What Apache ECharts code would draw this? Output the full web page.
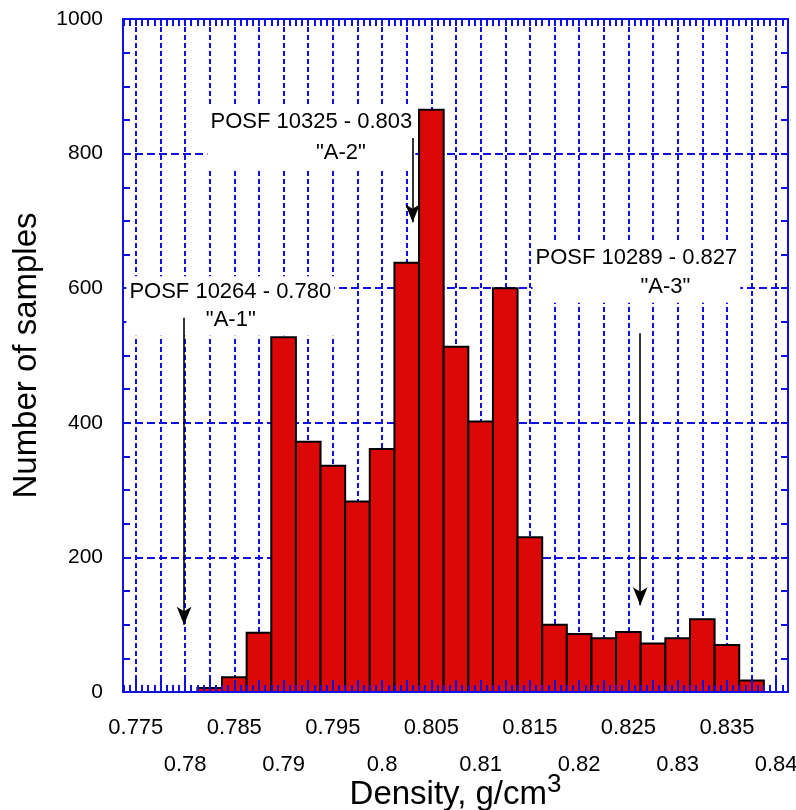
<!DOCTYPE html>
<html><head><meta charset="utf-8">
<script src="https://cdn.jsdelivr.net/npm/echarts@6/dist/echarts.min.js"></script>
<style>html,body{margin:0;padding:0;background:#fff}#c{width:796px;height:810px}</style>
</head><body><div id="c"></div>
<script>
// ---- data ----
const binCenters = [0.7825, 0.785, 0.7875, 0.79, 0.7925, 0.795, 0.7975, 0.8, 0.8025, 0.805, 0.8075, 0.81,
  0.8125, 0.815, 0.8175, 0.82, 0.8225, 0.825, 0.8275, 0.83, 0.8325, 0.835, 0.8375];
const sampleCounts = [6, 22, 88, 527, 372, 336, 283, 361, 638, 865, 513, 402,
  600, 230, 100, 86, 80, 89, 72, 80, 108, 70, 17];
const binWidth = 0.0025;
const xLabelsRow1 = ['0.775', '0.785', '0.795', '0.805', '0.815', '0.825', '0.835'];
const xLabelsRow2 = ['0.78', '0.79', '0.8', '0.81', '0.82', '0.83', '0.84'];
const yTickLabels = [0, 200, 400, 600, 800, 1000];
const annotTitles = ['POSF 10264 - 0.780', 'POSF 10325 - 0.803', 'POSF 10289 - 0.827'];
const annotCodes = ['"A-1"', '"A-2"', '"A-3"'];
const annotTitleX = [0.78459, 0.79282, 0.82581];
const annotTitleY = [594, 847, 645];
const annotCodeX = [0.78464, 0.79581, 0.82876];
const annotCodeY = [553, 801, 602];
const arrowX = [0.7799, 0.8031, 0.8262];
const arrowFrom = [556, 823, 533];
const arrowTo = [100, 698, 129];

// ---- axis setup ----
const xMin = 0.7737, xMax = 0.8412;
const gridStep = 0.0025, minorStep = 0.000625;
const gridValues = [];
for (let k = 0; k <= 26; k++) gridValues.push(+(0.775 + k * gridStep).toFixed(6));
const minorValues = [];
for (let k = -2; k <= 110; k++) {
  const v = +(0.775 + k * minorStep).toFixed(6);
  if (v > xMin && v < xMax) minorValues.push(v);
}
const BLUE = '#1010e0';
const FONT = '"Liberation Sans", Arial, sans-serif';
const fmt = v => String(+(+v).toFixed(4));

const ctx = document.createElement('canvas').getContext('2d');
ctx.font = '22px "Liberation Sans"';
const measure = t => ctx.measureText(t).width;

const gridRect = {left: 123, right: 8, top: 19, bottom: 118, outerBoundsMode: 'none', containLabel: false};

const chart = echarts.init(document.getElementById('c'), null, {renderer: 'canvas'});
chart.setOption({
  animation: false,
  backgroundColor: '#fff',
  grid: [Object.assign({}, gridRect), Object.assign({}, gridRect), Object.assign({}, gridRect)],
  xAxis: [
    { // 0: vertical dashed grid + second label row + name
      gridIndex: 0, type: 'value', position: 'bottom', min: xMin, max: xMax, z: 0,
      axisLine: {show: false},
      axisTick: {show: false, customValues: gridValues},
      splitLine: {show: true, lineStyle: {color: BLUE, width: 2, type: [5, 3]}},
      axisLabel: {show: true, customValues: xLabelsRow2.map(Number), formatter: fmt, margin: 62,
        fontSize: 22, color: '#000', fontFamily: FONT},
      name: '{a|Density, g/cm}{b|3}', nameLocation: 'middle', nameGap: 80, nameMoveOverlap: false,
      nameTextStyle: {color: '#000', fontFamily: FONT,
        rich: {a: {fontSize: 33, fontFamily: FONT, color: '#000', lineHeight: 45, verticalAlign: 'middle'},
               b: {fontSize: 26, fontFamily: FONT, color: '#000', verticalAlign: 'top', lineHeight: 20}}}
    },
    { // 1: top axis
      gridIndex: 0, type: 'value', position: 'top', min: xMin, max: xMax, z: 0,
      axisLine: {show: true, onZero: false, lineStyle: {color: BLUE, width: 2}},
      axisTick: {show: true, inside: true, length: 7, customValues: minorValues, lineStyle: {color: BLUE, width: 2}},
      splitLine: {show: false}, axisLabel: {show: false}
    },
    { // 2: bottom axis line, major ticks, first label row
      gridIndex: 1, type: 'value', position: 'bottom', min: xMin, max: xMax, z: 10,
      axisLine: {show: true, onZero: false, lineStyle: {color: BLUE, width: 2}},
      axisTick: {show: true, inside: true, length: 12, customValues: gridValues, lineStyle: {color: BLUE, width: 2}},
      splitLine: {show: false},
      axisLabel: {show: true, customValues: xLabelsRow1.map(Number), formatter: fmt, margin: 25,
        fontSize: 22, color: '#000', fontFamily: FONT}
    },
    { gridIndex: 1, type: 'value', position: 'top', min: xMin, max: xMax, show: false },
    { // 4: bottom minor ticks
      gridIndex: 2, type: 'value', position: 'bottom', min: xMin, max: xMax, z: 10,
      axisLine: {show: false},
      axisTick: {show: true, inside: true, length: 7, customValues: minorValues, lineStyle: {color: BLUE, width: 2}},
      splitLine: {show: false}, axisLabel: {show: false}
    }
  ],
  yAxis: [
    {
      gridIndex: 0, type: 'value', position: 'left', min: 0, max: 1000, interval: 200, z: 0,
      axisLine: {show: true, onZero: false, lineStyle: {color: BLUE, width: 2}},
      axisTick: {show: true, inside: true, length: 7, lineStyle: {color: BLUE, width: 2}},
      minorTick: {show: true, splitNumber: 4, length: 7, lineStyle: {color: BLUE, width: 2}},
      splitLine: {show: true, lineStyle: {color: BLUE, width: 2, type: [8, 4]}},
      axisLabel: {show: true, margin: 20, fontSize: 21, color: '#000', fontFamily: FONT,
        formatter: v => yTickLabels.indexOf(v) >= 0 ? String(v) : ''},
      name: 'Number of samples', nameLocation: 'middle', nameGap: 80, nameMoveOverlap: false,
      nameTextStyle: {fontSize: 33, color: '#000', fontFamily: FONT}
    },
    {
      gridIndex: 0, type: 'value', position: 'right', min: 0, max: 1000, interval: 200, z: 0,
      axisLine: {show: true, onZero: false, lineStyle: {color: BLUE, width: 2}},
      axisTick: {show: true, inside: true, length: 7, lineStyle: {color: BLUE, width: 2}},
      minorTick: {show: true, splitNumber: 4, length: 7, lineStyle: {color: BLUE, width: 2}},
      splitLine: {show: false}, axisLabel: {show: false}
    },
    { gridIndex: 1, type: 'value', min: 0, max: 1000, show: false },
    { gridIndex: 2, type: 'value', min: 0, max: 1000, show: false }
  ],
  series: [
    {
      type: 'custom', name: 'annotations', xAxisIndex: 0, yAxisIndex: 0, z: 1, silent: true,
      data: annotTitles.map((t, i) => [annotTitleX[i], annotTitleY[i]]),
      encode: {x: 0, y: 1},
      renderItem: function (params, api) {
        const i = params.dataIndex;
        const p1 = api.coord([annotTitleX[i], annotTitleY[i]]);
        const p2 = api.coord([annotCodeX[i], annotCodeY[i]]);
        const w = measure(annotTitles[i]);
        return {type: 'group', children: [
          {type: 'rect', shape: {x: p1[0] - w / 2 - 3, y: p1[1] - 16, width: w + 6, height: p2[1] - p1[1] + 32},
            style: {fill: '#fff'}},
          {type: 'text', style: {text: annotTitles[i], x: p1[0], y: p1[1], align: 'center', verticalAlign: 'middle',
            fontSize: 22, fontFamily: FONT, fill: '#000'}},
          {type: 'text', style: {text: annotCodes[i], x: p2[0], y: p2[1], align: 'center', verticalAlign: 'middle',
            fontSize: 22, fontFamily: FONT, fill: '#000'}}
        ]};
      },
      markLine: {
        silent: true, symbol: ['none', 'arrow'], symbolSize: [11, 18], z: 5,
        lineStyle: {color: '#000', width: 1.6, type: 'solid'},
        label: {show: false},
        data: arrowX.map((x, i) => [{coord: [x, arrowFrom[i]]}, {coord: [x, arrowTo[i]]}])
      }
    },
    {
      type: 'custom', name: 'samples', xAxisIndex: 0, yAxisIndex: 0, z: 2,
      data: binCenters.map((c, i) => [c, sampleCounts[i]]),
      encode: {x: 0, y: 1},
      renderItem: function (params, api) {
        const c = api.value(0), v = api.value(1);
        const p0 = api.coord([c - binWidth / 2, 0]);
        const p1 = api.coord([c + binWidth / 2, v]);
        return {type: 'rect', shape: {x: p0[0], y: p1[1], width: p1[0] - p0[0], height: p0[1] - p1[1]},
          style: {fill: '#dc0808', stroke: '#000', lineWidth: 2}};
      }
    }
  ]
});
</script>
</body></html>
